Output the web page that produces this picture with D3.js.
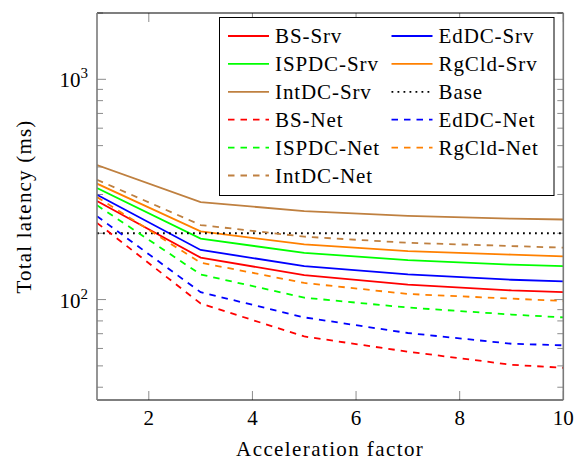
<!DOCTYPE html>
<html>
<head>
<meta charset="utf-8">
<script src="https://cdn.jsdelivr.net/npm/d3@7"></script>
<style>
  body { margin: 0; background: #fff; }
</style>
</head>
<body>
<div class="chart"></div>
<script>

var factors = [1, 3, 5, 7, 9, 10];

var bsSrv     = [280, 155, 129, 117, 110, 108];
var edSrv     = [299, 168, 142, 130, 123, 121];
var ispSrv    = [321, 189, 163, 151, 144, 142];
var rgSrv     = [336, 204, 178, 166, 160, 157];
var intSrv    = [408, 277, 252, 240, 233, 231];
var bsNet     = [223, 96, 68, 58, 50.6, 49];
var edNet     = [239, 108, 83, 70.5, 63, 62];
var ispNet    = [268, 130, 102, 92, 85.5, 83];
var rgNet     = [292, 147, 119, 106, 101, 98.5];
var intNet    = [350, 218, 193, 181, 175, 172];
var base      = [200, 200, 200, 200, 200, 200];

var names = ["BS-Srv", "EdDC-Srv", "ISPDC-Srv", "RgCld-Srv", "IntDC-Srv", "Base",
             "BS-Net", "EdDC-Net", "ISPDC-Net", "RgCld-Net", "IntDC-Net"];
var xTicks = [2, 4, 6, 8, 10];
var yMajor = [100, 1000];

var series = [
  {name: "BS-Srv",    vals: bsSrv,  color: "#ff0000", dash: null},
  {name: "EdDC-Srv",  vals: edSrv,  color: "#0000ff", dash: null},
  {name: "ISPDC-Srv", vals: ispSrv, color: "#00ff00", dash: null},
  {name: "RgCld-Srv", vals: rgSrv,  color: "#ff8000", dash: null},
  {name: "IntDC-Srv", vals: intSrv, color: "#bf8040", dash: null},
  {name: "Base",      vals: base,   color: "#000000", dash: "1.8,4.2"},
  {name: "BS-Net",    vals: bsNet,  color: "#ff0000", dash: "6.5,6"},
  {name: "EdDC-Net",  vals: edNet,  color: "#0000ff", dash: "6.5,6"},
  {name: "ISPDC-Net", vals: ispNet, color: "#00ff00", dash: "6.5,6"},
  {name: "RgCld-Net", vals: rgNet,  color: "#ff8000", dash: "6.5,6"},
  {name: "IntDC-Net", vals: intNet, color: "#bf8040", dash: "6.5,6"}
];

var W = 582, H = 461;
var pLeft = 97, pRight = 563.3, pTop = 13, pBottom = 400;
var fs = "21px", ls = "0.9px";
var serif = "'Liberation Serif', 'DejaVu Serif', 'Noto Serif', 'Times New Roman', Times, serif";

var svg = d3.select(".chart").append("svg")
  .attr("width", W).attr("height", H)
  .attr("font-family", serif)
  .style("font-family", serif);

var x = d3.scaleLinear().domain([1, 10]).range([pLeft, pRight]);
var y = d3.scaleLog().domain([35, 2000]).range([pBottom, pTop]);

// minor ticks on the log axis
var yMinor = [];
[10, 100, 1000].forEach(function(dec) {
  for (var k = 2; k <= 9; k++) {
    var v = dec * k;
    if (v >= 35 && v <= 2000) yMinor.push(v);
  }
});

svg.append("clipPath").attr("id", "plot")
  .append("rect").attr("x", pLeft).attr("y", pTop)
  .attr("width", pRight - pLeft).attr("height", pBottom - pTop);

var line = d3.line()
  .x(function(d, i) { return x(factors[i]); })
  .y(function(d) { return y(d); });

// ticks (inside the frame, gray)
var ticks = svg.append("g").attr("stroke", "#8c8c8c").attr("stroke-width", 1);
xTicks.forEach(function(t) {
  ticks.append("line").attr("x1", x(t)).attr("x2", x(t)).attr("y1", pBottom).attr("y2", pBottom - 9);
  ticks.append("line").attr("x1", x(t)).attr("x2", x(t)).attr("y1", pTop).attr("y2", pTop + 9);
});
yMajor.forEach(function(t) {
  ticks.append("line").attr("x1", pLeft).attr("x2", pLeft + 9).attr("y1", y(t)).attr("y2", y(t));
  ticks.append("line").attr("x1", pRight).attr("x2", pRight - 9).attr("y1", y(t)).attr("y2", y(t));
});
yMinor.forEach(function(t) {
  ticks.append("line").attr("x1", pLeft).attr("x2", pLeft + 6).attr("y1", y(t)).attr("y2", y(t));
  ticks.append("line").attr("x1", pRight).attr("x2", pRight - 6).attr("y1", y(t)).attr("y2", y(t));
});

var g = svg.append("g").attr("clip-path", "url(#plot)");

g.selectAll("path.series")
  .data(series)
  .enter().append("path")
  .attr("class", "series")
  .attr("fill", "none")
  .attr("stroke", function(d) { return d.color; })
  .attr("stroke-width", function(d) { return d.name == "Base" ? 2 : 1.8; })
  .attr("stroke-dasharray", function(d) { return d.dash; })
  .attr("d", function(d) { return line(d.vals); });

// frame
svg.append("line").attr("x1", pLeft).attr("x2", pRight).attr("y1", pTop).attr("y2", pTop)
  .attr("stroke", "#000").attr("stroke-width", 1.2);
svg.append("line").attr("x1", pLeft).attr("x2", pRight).attr("y1", pBottom).attr("y2", pBottom)
  .attr("stroke", "#000").attr("stroke-width", 1.2);
svg.append("line").attr("x1", pLeft).attr("x2", pLeft).attr("y1", pTop).attr("y2", pBottom)
  .attr("stroke", "#7a7a7a").attr("stroke-width", 1.6);
svg.append("line").attr("x1", pRight).attr("x2", pRight).attr("y1", pTop).attr("y2", pBottom)
  .attr("stroke", "#7a7a7a").attr("stroke-width", 1.6);

// tick labels
svg.selectAll("text.xt")
  .data(xTicks)
  .enter().append("text")
  .attr("class", "xt")
  .attr("x", function(d) { return x(d); })
  .attr("y", 425)
  .attr("text-anchor", "middle")
  .style("font-family", serif)
  .style("font-size", fs)
  .text(function(d) { return d; });

yMajor.forEach(function(t) {
  var lab = svg.append("text")
    .attr("x", 88)
    .attr("y", y(t) + 8)
    .attr("text-anchor", "end")
    .style("font-family", serif)
    .style("font-size", fs);
  lab.append("tspan").text("10");
  lab.append("tspan").attr("dy", -9).style("font-size", "15px").text(Math.round(Math.log10(t)));
});

// axis titles
svg.append("text")
  .attr("x", (pLeft + pRight) / 2)
  .attr("y", 456)
  .attr("text-anchor", "middle")
  .style("font-family", serif)
  .style("font-size", fs)
  .style("letter-spacing", "1.4px")
  .text("Acceleration factor");

svg.append("text")
  .attr("transform", "translate(31," + ((pTop + pBottom) / 2) + ") rotate(-90)")
  .attr("text-anchor", "middle")
  .style("font-family", serif)
  .style("font-size", fs)
  .style("letter-spacing", "1.2px")
  .text("Total latency (ms)");

// legend
var leg = svg.append("g");
leg.append("rect")
  .attr("x", 219.5).attr("y", 17.5)
  .attr("width", 334.5).attr("height", 178)
  .attr("fill", "#fff").attr("stroke", "#000").attr("stroke-width", 1);

var legItems = leg.selectAll("g.item")
  .data(series.slice().sort(function(a, b) {
    return names.indexOf(a.name) - names.indexOf(b.name);
  }))
  .enter().append("g")
  .attr("class", "item")
  .attr("transform", function(d, i) {
    var col = i % 2, row = Math.floor(i / 2);
    return "translate(" + (col ? 391.5 : 228) + "," + (36 + row * 27.9) + ")";
  });

legItems.append("line")
  .attr("x1", 0).attr("x2", 41).attr("y1", 0).attr("y2", 0)
  .attr("stroke", function(d) { return d.color; })
  .attr("stroke-width", 1.8)
  .attr("stroke-dasharray", function(d) { return d.dash; });

legItems.append("text")
  .attr("x", 47)
  .attr("y", 7)
  .style("font-family", serif)
  .style("font-size", fs)
  .style("letter-spacing", ls)
  .text(function(d) { return d.name; });

</script>
</body>
</html>
